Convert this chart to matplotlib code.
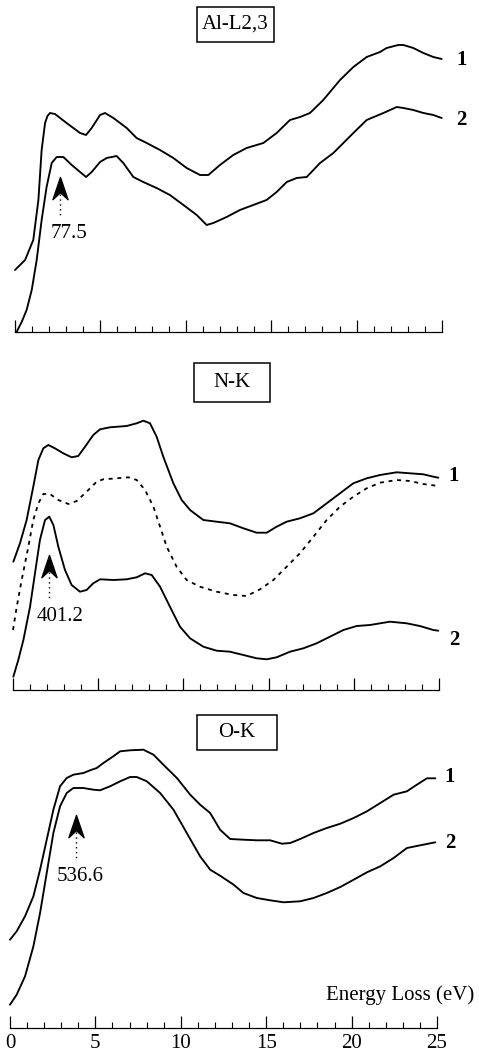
import matplotlib
matplotlib.use("Agg")
import matplotlib.pyplot as plt
from matplotlib.path import Path
from matplotlib.patches import Rectangle
from matplotlib.ticker import MultipleLocator

plt.rcParams['font.family'] = ['Liberation Serif', 'DejaVu Serif']
plt.rcParams['lines.solid_joinstyle'] = 'round'
plt.rcParams['lines.solid_capstyle'] = 'round'

# ---------------- data (energy loss in eV, intensity in arbitrary units) -------------
al_e1 = [0.0, 0.59, 1.07, 1.37, 1.56, 1.76, 1.90, 2.05, 2.34, 3.02, 3.81, 4.16, 4.49, 4.98, 5.27, 5.76,
         6.54, 7.12, 7.71, 8.49, 9.27, 10.05, 10.83, 11.32, 12.0, 12.78, 13.56, 14.54, 15.32,
         16.1, 16.69, 17.27, 18.05, 19.03, 19.81, 20.59, 21.37, 21.76, 22.44, 22.74, 23.32,
         23.91, 24.49, 24.98]
al_i1 = [62, 72, 92, 132, 182, 209, 216, 219, 218, 209, 199, 197, 204, 217, 219, 214,
         204, 194, 189, 182, 174, 164, 157, 157, 167, 177, 184, 189, 199,
         212, 215, 219, 232, 252, 265, 275, 280, 284, 287, 287, 284,
         279, 275, 273]
al_e2 = [0.10, 0.39, 0.68, 0.98, 1.27, 1.56, 1.85, 2.15, 2.44, 2.83, 3.32, 3.81, 4.16, 4.49,
         4.98, 5.37, 5.95, 6.34, 6.93, 7.51, 8.29, 9.07, 9.86, 10.64, 11.22, 11.61, 12.39,
         13.17, 13.95, 14.73, 15.32, 15.91, 16.49, 17.08, 17.86, 18.64, 19.81, 20.59, 21.57,
         22.35, 22.74, 23.32, 23.91, 24.49, 24.98]
al_i2 = [0.3, 10, 22, 42, 72, 112, 145, 169, 175, 175, 167, 160, 155, 160,
         170, 174, 176, 169, 155, 150, 144, 137, 127, 117, 107, 109, 115,
         122, 127, 132, 140, 150, 154, 155, 169, 179, 199, 212, 219,
         225, 224, 222, 219, 217, 214]

nk_e1 = [0.02, 0.41, 0.80, 1.19, 1.49, 1.78, 2.07, 2.46, 2.95, 3.44, 3.83, 4.23, 4.71, 5.11,
         5.69, 6.67, 7.26, 7.65, 8.04, 8.43, 8.82, 9.41, 9.90, 10.39, 11.17, 11.95, 12.73,
         13.52, 14.30, 14.89, 15.47, 16.06, 16.84, 17.63, 18.41, 19.19, 19.97, 20.76, 21.54,
         22.52, 23.30, 24.08, 24.67, 24.96]
nk_i1 = [128.3, 146.7, 170, 203.3, 230, 241.7, 245, 241.7, 236.7, 232.7, 234, 243.3, 255, 260.7,
         262.7, 264, 266.7, 269.3, 266.7, 253.3, 233.3, 206.7, 190, 180, 170, 168.3, 166.7,
         161.7, 157.3, 157.3, 163.3, 168.3, 171.7, 176.7, 186.7, 196.7, 206.7, 211.7, 215,
         217.7, 216.7, 215.7, 213.3, 212.3]
nk_e_ref = [0.0, 0.22, 0.51, 0.90, 1.19, 1.49, 1.78, 2.17, 2.66, 3.25, 3.74, 4.32, 4.91, 5.30,
            6.08, 6.77, 7.26, 7.75, 8.24, 8.63, 9.02, 9.60, 10.19, 10.97, 11.95, 12.93, 13.71,
            14.50, 15.28, 16.06, 16.84, 17.63, 18.41, 19.19, 19.97, 20.76, 21.54, 22.52, 23.30,
            24.08, 24.96]
nk_i_ref = [60, 83.3, 110, 143.3, 170, 186.7, 196, 196, 190, 186, 189, 198.3, 208.3, 210.7,
            211.7, 212.7, 210, 200, 183.3, 163.3, 143.3, 123.3, 110, 103.3, 98.3, 95, 94,
            100.7, 110, 123.3, 136.7, 153.3, 170, 183.3, 193.3, 201.7, 207.3, 210, 209,
            206, 204]
nk_e2 = [0.02, 0.31, 0.61, 1.00, 1.29, 1.58, 1.88, 2.13, 2.37, 2.66, 3.05, 3.44, 3.93, 4.32,
         4.71, 5.11, 5.89, 6.67, 7.26, 7.75, 8.14, 8.63, 9.21, 9.80, 10.39, 11.17, 11.95,
         12.73, 13.52, 14.30, 14.89, 15.47, 16.26, 17.04, 17.82, 18.60, 19.39, 20.17, 20.95,
         22.12, 23.10, 23.87, 24.67, 24.96]
nk_i2 = [13.3, 30, 50, 83.3, 116.7, 150, 170, 173.3, 165, 143.3, 120, 105, 98.3, 100,
         106.7, 110.7, 110, 110.7, 112.7, 116.7, 115, 103.3, 83.3, 63.3, 51.7, 43.3, 39.3,
         38.3, 35, 31.7, 30.7, 32.7, 38.3, 41.7, 46.7, 53.3, 60, 64, 65,
         68.3, 66.7, 64, 60, 59.3]

ok_e1 = [0.0, 0.39, 0.88, 1.37, 1.76, 2.15, 2.54, 2.93, 3.32, 3.71, 4.30, 4.69, 5.08, 5.47,
         6.05, 6.45, 7.03, 7.81, 8.40, 8.98, 9.77, 10.55, 11.13, 11.72, 12.30, 12.89, 13.67,
         14.45, 15.23, 15.92, 16.41, 16.99, 17.77, 18.55, 19.34, 20.12, 20.90, 21.68, 22.46,
         23.24, 23.73, 24.41, 24.90]
ok_i1 = [88.3, 96.7, 111.7, 131.7, 158.3, 188.3, 218.3, 241.7, 250, 253.3, 255, 257.7, 260, 265,
         271.7, 276.7, 277.7, 278.3, 273.3, 263.3, 250, 233.3, 223.3, 215, 198.3, 189, 188.3,
         187.7, 187.7, 184.3, 185, 189, 195, 200, 204.3, 210, 216.7, 225, 233.3,
         236.7, 242.3, 249.7, 249.7]
ok_e2 = [0.0, 0.39, 0.88, 1.37, 1.76, 2.15, 2.54, 2.93, 3.32, 3.71, 4.30, 4.88, 5.27, 5.86,
         6.45, 7.03, 7.42, 8.01, 8.79, 9.57, 10.35, 11.13, 11.72, 12.30, 13.09, 13.67, 14.45,
         15.23, 16.02, 16.99, 17.77, 18.55, 19.34, 20.12, 20.90, 21.68, 22.46, 23.24, 24.02,
         24.90]
ok_i2 = [23.3, 33.3, 51.7, 81.7, 115, 155, 195, 221.7, 235, 240, 240, 238.3, 237.7, 241.7,
         246.7, 251, 251, 246.7, 235, 218.3, 195, 171.7, 158.3, 152.3, 143.3, 135, 130,
         127.7, 125.7, 126.7, 130, 135, 141, 148.3, 155.7, 161.7, 170, 180, 182.7,
         185.7]

edge_names = ["Al-L2,3", "N-K", "O-K"]
onset_labels = ["77.5", "401.2", "536.6"]
onset_energy = [2.63, 2.13, 3.87]
tick_values = [0, 5, 10, 15, 20, 25]
tick_labels = ["0", "5", "10", "15", "20", "25"]

# ---------------- figure ----------------
W, H = 479, 1059
fig = plt.figure(figsize=(W / 100, H / 100), dpi=100)

def make_axes(x0, x25, y_axis, y_top):
    ax = fig.add_axes([x0 / W, (H - y_axis) / H, (x25 - x0) / W, (y_axis - y_top) / H])
    ax.set_xlim(0, 25)
    ax.set_ylim(0, y_axis - y_top)
    for s in ("left", "right", "top"):
        ax.spines[s].set_visible(False)
    ax.spines["bottom"].set_linewidth(0.9)
    ax.set_yticks([])
    ax.set_xticks(tick_values)
    ax.xaxis.set_minor_locator(MultipleLocator(1))
    ax.tick_params(axis="x", which="major", direction="in", length=8.5, width=0.9)
    ax.tick_params(axis="x", which="minor", direction="in", length=4.3, width=0.8)
    ax.patch.set_alpha(0)
    return ax

axes = [make_axes(15, 442, 332, 0), make_axes(13, 439, 690, 340), make_axes(10, 437, 1028, 680)]

LW = 1.35
txt = dict(fontsize=15)
arrow_path = Path([(0, 0), (-0.34, -1.0), (0, -0.68), (0.34, -1.0), (0, 0)],
                  [Path.MOVETO, Path.LINETO, Path.LINETO, Path.LINETO, Path.CLOSEPOLY])

def box(ax, x0, x1, y0, y1, label):
    ax.add_patch(Rectangle((x0, y0), x1 - x0, y1 - y0, fill=False, lw=1.1, ec="black",
                           clip_on=False))
    ax.text((x0 + x1) / 2, (y0 + y1) / 2, label, ha="center", va="center", **txt)

def onset(ax, e, tip, stem_end, lab_y, lab_x, label):
    ax.plot([e], [tip], marker=arrow_path, markersize=32, color="black", clip_on=False)
    ax.plot([e, e], [tip - 17, stem_end], color="black", lw=1.0, ls=(0, (1, 2.5)))
    ax.text(lab_x, lab_y, label, ha="center", va="center", **txt)

def curve_labels(ax, x, y1, y2):
    ax.text(x, y1, "1", ha="center", va="center", fontweight="bold", **txt)
    ax.text(x, y2, "2", ha="center", va="center", fontweight="bold", **txt)

# Panel 1: Al-L2,3
ax = axes[0]
ax.plot(al_e1, al_i1, color="black", lw=LW, clip_on=False)
ax.plot(al_e2, al_i2, color="black", lw=LW, clip_on=False)
box(ax, 10.66, 15.17, 290, 325, edge_names[0])
onset(ax, onset_energy[0], 155, 114, 98.7, 3.16, onset_labels[0])
curve_labels(ax, 26.15, 272, 212)
ax.set_xticklabels([])

# Panel 2: N-K
ax = axes[1]
ax.plot(nk_e1, nk_i1, color="black", lw=LW, clip_on=False)
ax.plot(nk_e_ref, nk_i_ref, color="black", lw=1.3, ls=(0, (2.2, 2.6)), clip_on=False)
ax.plot(nk_e2, nk_i2, color="black", lw=LW, clip_on=False)
box(ax, 10.64, 15.08, 288.3, 327.3, edge_names[1])
onset(ax, onset_energy[1], 135, 90, 73.3, 2.76, onset_labels[1])
curve_labels(ax, 25.88, 214, 50)
ax.set_xticklabels([])

# Panel 3: O-K
ax = axes[2]
ax.plot(ok_e1, ok_i1, color="black", lw=LW, clip_on=False)
ax.plot(ok_e2, ok_i2, color="black", lw=LW, clip_on=False)
box(ax, 10.97, 15.61, 278, 313, edge_names[2])
onset(ax, onset_energy[2], 213.3, 168.3, 151.7, 4.1, onset_labels[2])
curve_labels(ax, 25.76, 251.3, 184.7)
ax.set_xticklabels(tick_labels, fontsize=15)
ax.tick_params(axis="x", which="major", pad=4)
ax.text(27.2, 33, "Energy Loss (eV)", ha="right", va="center", **txt)

fig.savefig("out.png", dpi=100)
